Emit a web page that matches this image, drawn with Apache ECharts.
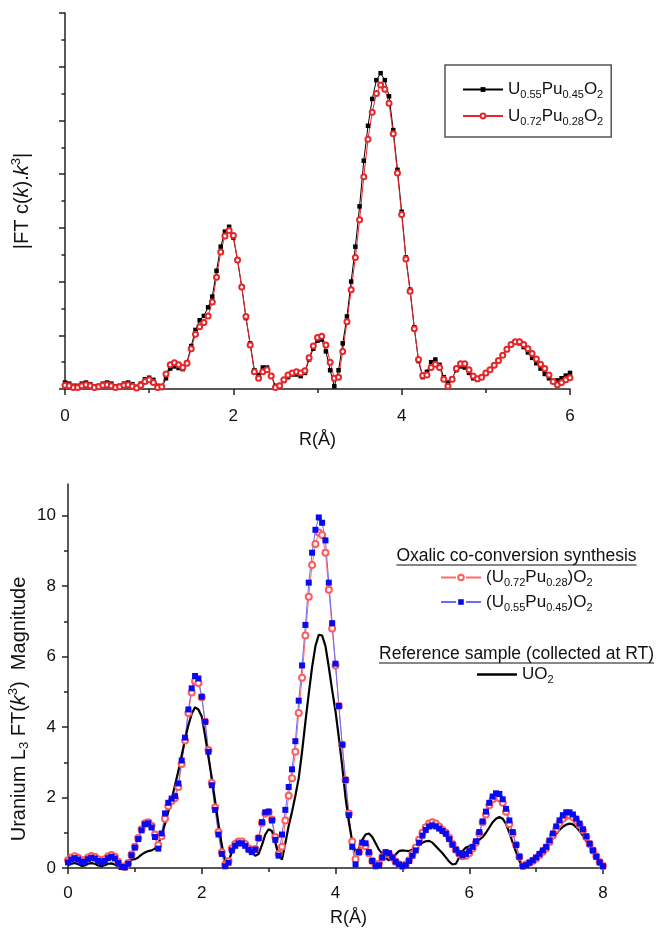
<!DOCTYPE html>
<html><head><meta charset="utf-8">
<script src="https://cdn.jsdelivr.net/npm/echarts@6/dist/echarts.min.js"></script>
<style>html,body{margin:0;padding:0;background:#fff}#c{width:657px;height:928px}</style>
</head><body><div id="c"></div>
<script>
// Sampling step of R (Å) for all series
const STEP = 0.05;

// ---- Top panel: |FT chi(k) k^3| (arbitrary units), R = 0 .. 6 Å ----
const topU55 = [
0.12,0.10,0.06,0.06,0.10,0.12,0.09,0.05,0.06,0.10,
0.12,0.10,0.05,0.06,0.10,0.12,0.09,0.04,0.10,0.18,
0.21,0.17,0.06,0.02,0.20,0.38,0.42,0.39,0.37,0.50,
0.80,1.10,1.28,1.36,1.52,1.72,2.20,2.65,2.93,3.02,
2.82,2.40,1.90,1.32,0.85,0.35,0.26,0.40,0.40,0.25,
0.06,0.05,0.15,0.22,0.27,0.27,0.24,0.30,0.55,0.75,
0.90,0.92,0.70,0.35,0.05,0.35,0.85,1.35,2.00,2.65,
3.40,4.25,4.90,5.40,5.75,5.88,5.75,5.45,4.82,4.08,
3.30,2.45,1.85,1.15,0.52,0.22,0.32,0.50,0.55,0.45,
0.22,0.12,0.20,0.35,0.42,0.40,0.30,0.20,0.17,0.22,
0.30,0.36,0.44,0.52,0.62,0.73,0.82,0.87,0.85,0.78,
0.68,0.58,0.48,0.38,0.28,0.20,0.14,0.16,0.20,0.25,
0.30];
const topU72 = [
0.07,0.06,0.03,0.03,0.06,0.08,0.06,0.03,0.04,0.07,
0.08,0.06,0.03,0.04,0.07,0.08,0.05,0.02,0.07,0.14,
0.17,0.12,0.03,0.04,0.28,0.45,0.49,0.45,0.40,0.48,
0.75,1.02,1.16,1.24,1.36,1.62,2.08,2.55,2.85,2.95,
2.86,2.40,1.90,1.35,0.82,0.32,0.20,0.32,0.36,0.24,
0.03,0.06,0.17,0.26,0.30,0.32,0.30,0.34,0.58,0.80,
0.96,0.98,0.82,0.50,0.20,0.22,0.70,1.25,1.85,2.45,
3.15,3.95,4.65,5.15,5.50,5.66,5.58,5.32,4.75,4.02,
3.25,2.42,1.82,1.12,0.55,0.25,0.26,0.40,0.46,0.40,
0.18,0.05,0.18,0.38,0.47,0.47,0.36,0.24,0.19,0.22,
0.30,0.36,0.44,0.53,0.63,0.74,0.83,0.88,0.88,0.83,
0.75,0.66,0.56,0.46,0.38,0.26,0.14,0.08,0.12,0.17,
0.21];

// ---- Bottom panel: Uranium L3 FT(k^3) magnitude, R = 0 .. 8 Å ----
const botU72 = [
0.22,0.30,0.33,0.29,0.22,0.23,0.30,0.34,0.32,0.25,
0.21,0.25,0.33,0.37,0.32,0.18,0.05,0.03,0.14,0.38,
0.60,0.85,1.10,1.27,1.30,1.20,0.95,0.65,0.90,1.40,
1.75,1.90,1.98,2.30,2.95,3.62,4.40,4.98,5.30,5.25,
4.85,4.15,3.35,2.42,1.72,1.02,0.45,0.10,0.20,0.55,
0.68,0.75,0.75,0.68,0.56,0.48,0.54,0.85,1.28,1.55,
1.58,1.38,0.88,0.40,0.60,1.35,2.05,2.55,3.30,4.40,
5.40,6.60,7.70,8.60,9.20,9.52,9.45,8.95,7.90,6.80,
5.75,4.60,3.50,2.50,1.55,0.75,0.25,0.45,0.65,0.62,
0.42,0.20,0.08,0.12,0.30,0.42,0.40,0.30,0.18,0.10,
0.06,0.10,0.22,0.40,0.58,0.80,1.00,1.16,1.26,1.30,
1.26,1.18,1.08,1.00,0.86,0.68,0.52,0.40,0.33,0.35,
0.42,0.55,0.72,0.98,1.30,1.52,1.78,1.95,2.02,1.98,
1.85,1.60,1.25,0.98,0.66,0.32,0.06,0.10,0.15,0.20,
0.27,0.36,0.46,0.56,0.74,0.92,1.10,1.26,1.40,1.48,
1.50,1.45,1.35,1.22,1.07,0.88,0.68,0.50,0.33,0.17,
0.06];
const botU55 = [
0.16,0.24,0.28,0.24,0.17,0.18,0.25,0.29,0.27,0.20,
0.16,0.20,0.28,0.32,0.27,0.14,0.03,0.02,0.12,0.36,
0.58,0.82,1.07,1.24,1.27,1.15,0.88,0.55,0.98,1.55,
1.85,1.97,2.04,2.40,3.05,3.70,4.50,5.10,5.45,5.38,
4.86,4.15,3.30,2.35,1.65,0.95,0.40,0.05,0.15,0.50,
0.63,0.70,0.70,0.63,0.52,0.45,0.52,0.85,1.30,1.58,
1.60,1.35,0.80,0.35,0.95,1.65,2.30,2.80,3.60,4.75,
5.75,6.90,8.10,8.95,9.60,9.95,9.80,9.30,8.10,6.95,
5.80,4.60,3.50,2.50,1.50,0.60,0.10,0.45,0.72,0.70,
0.45,0.20,0.05,0.08,0.30,0.45,0.42,0.30,0.18,0.10,
0.05,0.08,0.20,0.35,0.50,0.72,0.92,1.08,1.18,1.21,
1.18,1.12,1.05,0.97,0.82,0.66,0.52,0.42,0.36,0.40,
0.48,0.60,0.76,1.02,1.32,1.60,1.85,2.03,2.12,2.10,
1.95,1.68,1.35,1.02,0.65,0.32,0.05,0.08,0.15,0.22,
0.30,0.40,0.50,0.60,0.78,0.98,1.18,1.35,1.50,1.58,
1.58,1.52,1.40,1.26,1.10,0.90,0.69,0.50,0.32,0.16,
0.05];
const botUO2 = [
0.08,0.12,0.14,0.11,0.06,0.07,0.12,0.14,0.12,0.07,
0.05,0.08,0.12,0.13,0.10,0.04,0.01,0.08,0.18,0.24,
0.25,0.30,0.38,0.44,0.48,0.50,0.55,0.70,0.92,1.25,
1.60,1.95,2.35,2.75,3.20,3.65,4.05,4.38,4.56,4.50,
4.30,3.75,3.15,2.55,1.90,1.25,0.65,0.22,0.18,0.45,
0.62,0.70,0.72,0.68,0.58,0.45,0.35,0.40,0.65,0.95,
1.10,1.05,0.72,0.35,0.24,0.70,1.20,1.60,2.05,2.55,
3.30,4.15,4.95,5.70,6.30,6.62,6.60,6.30,5.70,5.05,
4.45,3.70,2.90,2.00,1.30,0.75,0.46,0.55,0.80,0.95,
0.98,0.88,0.70,0.52,0.40,0.28,0.22,0.26,0.38,0.48,
0.50,0.49,0.48,0.52,0.60,0.66,0.72,0.76,0.77,0.72,
0.62,0.52,0.42,0.30,0.18,0.10,0.12,0.30,0.48,0.58,
0.62,0.64,0.70,0.80,0.88,1.00,1.15,1.30,1.40,1.45,
1.40,1.25,1.00,0.72,0.45,0.20,0.03,0.10,0.16,0.20,
0.27,0.35,0.45,0.58,0.72,0.85,0.97,1.08,1.17,1.23,
1.26,1.24,1.16,1.05,0.92,0.77,0.60,0.44,0.29,0.15,
0.04];

// Tick values
const topXTicks = [0, 2, 4, 6];
const botXTicks = [0, 2, 4, 6, 8];
const botYTicks = [0, 2, 4, 6, 8, 10];

const N_TOP1 = 'U0.55Pu0.45O2', N_TOP2 = 'U0.72Pu0.28O2';
const N_B1 = '(U0.72Pu0.28)O2', N_B2 = '(U0.55Pu0.45)O2', N_B3 = 'UO2';
const richNames = {
  [N_TOP1]: '{m|U}{s|0.55}{m|Pu}{s|0.45}{m|O}{s|2}',
  [N_TOP2]: '{m|U}{s|0.72}{m|Pu}{s|0.28}{m|O}{s|2}',
  [N_B1]: '{m|(U}{s|0.72}{m|Pu}{s|0.28}{m|)O}{s|2}',
  [N_B2]: '{m|(U}{s|0.55}{m|Pu}{s|0.45}{m|)O}{s|2}',
  [N_B3]: '{m|UO}{s|2}'
};

const FF = '"Liberation Sans", Arial, sans-serif';
const INK = '#111';
function pairs(arr) { return arr.map((v, i) => [Math.round(i * STEP * 100) / 100, v]); }
function tw(str, size) {
  const c = document.createElement('canvas').getContext('2d');
  c.font = size + 'px ' + FF; return c.measureText(str).width;
}
const legRich = {
  m: {fontSize: 17, fontFamily: FF, color: INK, lineHeight: 22},
  s: {fontSize: 11, fontFamily: FF, color: INK, lineHeight: 9, verticalAlign: 'bottom'}
};
const axisLineStyle = {color: '#222', width: 1.5};

const chart = echarts.init(document.getElementById('c'), null, {renderer: 'canvas'});

const H1 = 'Oxalic co-conversion synthesis';
const H2 = 'Reference sample (collected at RT)';
const HS = 17.5, HX = 516.5;
const w1 = tw(H1, HS), w2 = tw(H2, HS);

const option = {
  animation: false,
  backgroundColor: '#fff',
  grid: [
    {left: 65, top: 13, width: 505, height: 376},
    {left: 68, top: 484, width: 535, height: 384}
  ],
  xAxis: [
    {gridIndex: 0, type: 'value', min: 0, max: 6, interval: 2,
     axisLine: {lineStyle: axisLineStyle}, splitLine: {show: false},
     axisTick: {length: 6, lineStyle: axisLineStyle, customValues: topXTicks},
     minorTick: {show: true, splitNumber: 2, length: 4, lineStyle: axisLineStyle},
     axisLabel: {fontSize: 17, fontFamily: FF, color: INK, margin: 19, customValues: topXTicks},
     name: 'R(Å)', nameLocation: 'middle', nameGap: 42,
     nameTextStyle: {fontSize: 18, fontFamily: FF, color: INK}},
    {gridIndex: 1, type: 'value', min: 0, max: 8, interval: 2,
     axisLine: {lineStyle: axisLineStyle}, splitLine: {show: false},
     axisTick: {length: 6, lineStyle: axisLineStyle, customValues: botXTicks},
     minorTick: {show: true, splitNumber: 2, length: 4, lineStyle: axisLineStyle},
     axisLabel: {fontSize: 17, fontFamily: FF, color: INK, margin: 17, customValues: botXTicks},
     name: 'R(Å)', nameLocation: 'middle', nameGap: 41,
     nameTextStyle: {fontSize: 18, fontFamily: FF, color: INK, padding: [0, 0, 0, 26]}}
  ],
  yAxis: [
    {gridIndex: 0, type: 'value', min: 0, max: 7, interval: 1,
     axisLine: {show: true, lineStyle: axisLineStyle}, splitLine: {show: false},
     axisTick: {show: true, length: 6, lineStyle: axisLineStyle},
     minorTick: {show: true, splitNumber: 2, length: 3.5, lineStyle: axisLineStyle},
     axisLabel: {show: false},
     name: '{m||FT c(}{i|k}{m|).}{i|k}{p|3}{m||}', nameLocation: 'middle', nameGap: 31,
     nameTextStyle: {rich: {
       m: {fontSize: 20, fontFamily: FF, color: INK, lineHeight: 24},
       i: {fontSize: 20, fontFamily: FF, color: INK, fontStyle: 'italic', lineHeight: 24},
       p: {fontSize: 13, fontFamily: FF, color: INK, lineHeight: 12, verticalAlign: 'top'}
     }}},
    {gridIndex: 1, type: 'value', min: 0, max: 10.9, interval: 2,
     axisLine: {show: true, lineStyle: axisLineStyle}, splitLine: {show: false},
     axisTick: {show: true, length: 6, lineStyle: axisLineStyle, customValues: botYTicks},
     minorTick: {show: true, splitNumber: 2, length: 4, lineStyle: axisLineStyle},
     axisLabel: {fontSize: 17, fontFamily: FF, color: INK, margin: 12, customValues: botYTicks}}
  ],
  legend: [
    {data: [N_TOP1, N_TOP2], orient: 'vertical', left: 445, top: 65, selectedMode: false,
     borderColor: '#555', borderWidth: 1.5, padding: [16, 8, 10, 17],
     itemWidth: 40, itemHeight: 6, itemGap: 7,
     formatter: n => richNames[n], textStyle: {rich: legRich}},
    {data: [N_B1, N_B2], orient: 'vertical', left: 440, top: 569, selectedMode: false,
     padding: 0, itemWidth: 40, itemHeight: 7, itemGap: 5,
     lineStyle: {type: [15, 10]},
     formatter: n => richNames[n], textStyle: {rich: legRich}},
    {data: [{name: N_B3, icon: 'rect'}], orient: 'vertical', left: 477, top: 666, selectedMode: false,
     padding: 0, itemWidth: 40, itemHeight: 2.5,
     formatter: n => richNames[n], textStyle: {rich: legRich}}
  ],
  graphic: [
    {type: 'text', x: 19, y: 709, rotation: Math.PI / 2,
     style: {text: '{m|Uranium L}{s|3}{m| FT(}{i|k}{p|3}{m|)  Magnitude}',
       align: 'center', verticalAlign: 'middle',
       rich: {
         m: {fontSize: 20, fontFamily: FF, fill: INK, lineHeight: 24},
         i: {fontSize: 20, fontFamily: FF, fill: INK, fontStyle: 'italic', lineHeight: 24},
         s: {fontSize: 13, fontFamily: FF, fill: INK, lineHeight: 10, verticalAlign: 'bottom'},
         p: {fontSize: 13, fontFamily: FF, fill: INK, lineHeight: 12, verticalAlign: 'top'}
       }}},
    {type: 'text', x: HX, y: 556, style: {text: H1, fontSize: HS, fontFamily: FF, fill: INK, align: 'center', verticalAlign: 'middle'}},
    {type: 'line', shape: {x1: HX - w1 / 2, y1: 565, x2: HX + w1 / 2, y2: 565}, style: {stroke: INK, lineWidth: 1.2}},
    {type: 'text', x: HX, y: 654, style: {text: H2, fontSize: HS, fontFamily: FF, fill: INK, align: 'center', verticalAlign: 'middle'}},
    {type: 'line', shape: {x1: HX - w2 / 2, y1: 663, x2: HX + w2 / 2, y2: 663}, style: {stroke: INK, lineWidth: 1.2}}
  ],
  series: [
    {name: N_TOP1, type: 'line', xAxisIndex: 0, yAxisIndex: 0, data: pairs(topU55),
     symbol: 'rect', symbolSize: 4.5, itemStyle: {color: '#000'},
     lineStyle: {color: '#000', width: 1}},
    {name: N_TOP2, type: 'line', xAxisIndex: 0, yAxisIndex: 0, data: pairs(topU72),
     symbol: 'emptyCircle', symbolSize: 5, itemStyle: {color: '#e8262a', borderWidth: 1},
     lineStyle: {color: '#e8262a', width: 1}},
    {name: N_B1, type: 'line', xAxisIndex: 1, yAxisIndex: 1, data: pairs(botU72),
     symbol: 'emptyCircle', symbolSize: 6, itemStyle: {color: '#ff5c5c', borderWidth: 1},
     lineStyle: {color: '#ff6b6b', width: 1}},
    {name: N_B2, type: 'line', xAxisIndex: 1, yAxisIndex: 1, data: pairs(botU55),
     symbol: 'rect', symbolSize: 6, itemStyle: {color: '#0a0af0'},
     lineStyle: {color: '#6a6aff', width: 1}},
    {name: N_B3, type: 'line', xAxisIndex: 1, yAxisIndex: 1, data: pairs(botUO2),
     symbol: 'none', itemStyle: {color: '#000'},
     lineStyle: {color: '#000', width: 2.2}}
  ]
};
chart.setOption(option);
</script>
</body></html>
